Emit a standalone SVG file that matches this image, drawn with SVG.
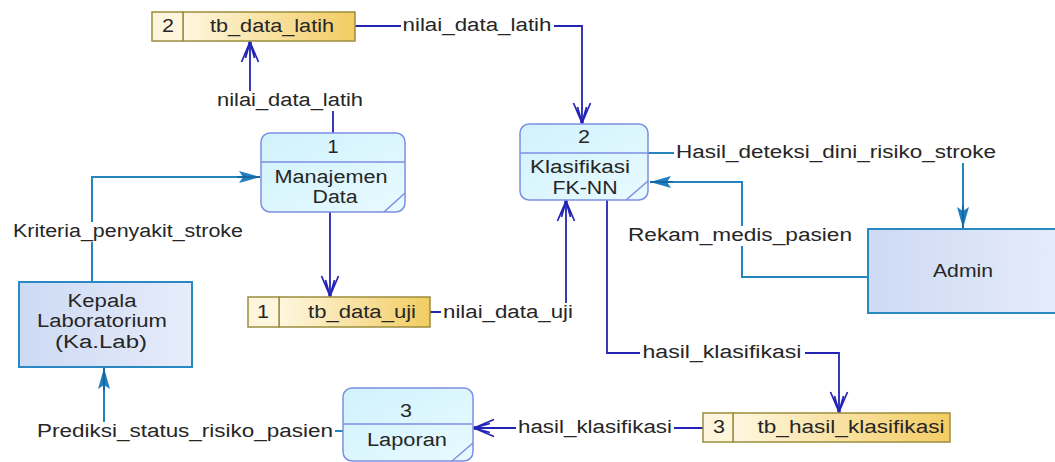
<svg xmlns="http://www.w3.org/2000/svg" width="1055" height="462" viewBox="0 0 1055 462">
  <style>
    text { font-family: "Liberation Sans", Arial, sans-serif; font-size: 18px; fill: #262626; text-anchor: middle; }
    .proc { fill: url(#procFill); stroke: #7d8ee4; stroke-width: 1.5; }
    .procLine { stroke: #7d8ee4; stroke-width: 1.5; fill: none; }
    .ext { fill: url(#extFill); stroke: #2a88c2; stroke-width: 2; }
    .dsNum { fill: #fdf6dc; stroke: #9c8d3c; stroke-width: 1.5; }
    .dsName { fill: url(#dsFill); stroke: #9c8d3c; stroke-width: 1.5; }
    .flow { fill: none; stroke: #2424b4; stroke-width: 1.8; }
    .flowT { fill: none; stroke: #2384bf; stroke-width: 2; }
    .bg { fill: #ffffff; }
  </style>
  <defs>
    <linearGradient id="procFill" x1="0" y1="0" x2="1" y2="1">
      <stop offset="0" stop-color="#d0f2fc"/>
      <stop offset="1" stop-color="#e8faff"/>
    </linearGradient>
    <linearGradient id="extFill" x1="0" y1="0" x2="1" y2="0">
      <stop offset="0" stop-color="#cddaf4"/>
      <stop offset="1" stop-color="#e6ecfa"/>
    </linearGradient>
    <linearGradient id="dsFill" x1="0" y1="0" x2="1" y2="0">
      <stop offset="0" stop-color="#fef7e0"/>
      <stop offset="1" stop-color="#f3cc62"/>
    </linearGradient>
    <!-- open double-V head for data store flows -->
    <marker id="open" viewBox="0 0 22 20" refX="21" refY="10" markerWidth="22" markerHeight="20" markerUnits="userSpaceOnUse" orient="auto">
      <path d="M1,1.5 L21,10 L1,18.5 M5,5.5 L21,10 L5,14.5" fill="none" stroke="#2424b4" stroke-width="1.7"/>
      <circle cx="20" cy="10" r="1.9" fill="#2424b4"/>
    </marker>
    <!-- filled head for external entity flows -->
    <marker id="solid" viewBox="0 0 24 14" refX="23" refY="7" markerWidth="24" markerHeight="14" markerUnits="userSpaceOnUse" orient="auto">
      <path d="M2,1 L23,7 L2,13 L6,7 z" fill="#1f7fc0"/>
      <path d="M0,7 L23,7" stroke="#15609a" stroke-width="1.5"/>
    </marker>
  </defs>

  <!-- connectors -->
  <g id="connectors">
    <path class="flow" d="M333,133 V100 H250 V42" marker-end="url(#open)"/>
    <path class="flow" d="M355,26 H582 V123" marker-end="url(#open)"/>
    <path class="flow" d="M330,212 V296" marker-end="url(#open)"/>
    <path class="flow" d="M430,312 H566 V201" marker-end="url(#open)"/>
    <path class="flow" d="M607,200 V353 H839 V412" marker-end="url(#open)"/>
    <path class="flow" d="M703,428 H474" marker-end="url(#open)"/>
    <path class="flowT" d="M92,282 V177 H260" marker-end="url(#solid)"/>
    <path class="flowT" d="M343,431 H104 V368" marker-end="url(#solid)"/>
    <path class="flowT" d="M648,153 H963 V228" marker-end="url(#solid)"/>
    <path class="flowT" d="M868,277 H742 V182 H650" marker-end="url(#solid)"/>

    <!-- flow labels -->
    <rect class="bg" x="215" y="91" width="150" height="20"/>
    <text x="290" y="106" textLength="146" lengthAdjust="spacingAndGlyphs">nilai_data_latih</text>
    <rect class="bg" x="401" y="16" width="153" height="20"/>
    <text x="477" y="31" textLength="149" lengthAdjust="spacingAndGlyphs">nilai_data_latih</text>
    <rect class="bg" x="441" y="303" width="134" height="20"/>
    <text x="508" y="318" textLength="130" lengthAdjust="spacingAndGlyphs">nilai_data_uji</text>
    <rect class="bg" x="640" y="343" width="165" height="20"/>
    <text x="722" y="358" textLength="159" lengthAdjust="spacingAndGlyphs">hasil_klasifikasi</text>
    <rect class="bg" x="516" y="418" width="158" height="20"/>
    <text x="595" y="433" textLength="154" lengthAdjust="spacingAndGlyphs">hasil_klasifikasi</text>
    <rect class="bg" x="11" y="222" width="234" height="20"/>
    <text x="128" y="237" textLength="230" lengthAdjust="spacingAndGlyphs">Kriteria_penyakit_stroke</text>
    <rect class="bg" x="35" y="422" width="300" height="20"/>
    <text x="185" y="437" textLength="296" lengthAdjust="spacingAndGlyphs">Prediksi_status_risiko_pasien</text>
    <rect class="bg" x="674" y="143" width="324" height="20"/>
    <text x="836" y="158" textLength="320" lengthAdjust="spacingAndGlyphs">Hasil_deteksi_dini_risiko_stroke</text>
    <rect class="bg" x="626" y="226" width="228" height="20"/>
    <text x="740" y="241" textLength="224" lengthAdjust="spacingAndGlyphs">Rekam_medis_pasien</text>
  </g>

  <!-- data stores -->
  <g id="ds-tb_data_latih">
    <rect class="dsName" x="183" y="12" width="172" height="29"/>
    <rect class="dsNum" x="152" y="12" width="31" height="29"/>
    <text x="168" y="32" textLength="12" lengthAdjust="spacingAndGlyphs">2</text>
    <text x="272" y="32" textLength="124" lengthAdjust="spacingAndGlyphs">tb_data_latih</text>
  </g>
  <g id="ds-tb_data_uji">
    <rect class="dsName" x="279" y="297" width="151" height="30"/>
    <rect class="dsNum" x="248" y="297" width="31" height="30"/>
    <text x="263" y="318" textLength="12" lengthAdjust="spacingAndGlyphs">1</text>
    <text x="362" y="318" textLength="108" lengthAdjust="spacingAndGlyphs">tb_data_uji</text>
  </g>
  <g id="ds-tb_hasil_klasifikasi">
    <rect class="dsName" x="733" y="413" width="217" height="29"/>
    <rect class="dsNum" x="703" y="413" width="30" height="29"/>
    <text x="719" y="433" textLength="12" lengthAdjust="spacingAndGlyphs">3</text>
    <text x="851" y="433" textLength="187" lengthAdjust="spacingAndGlyphs">tb_hasil_klasifikasi</text>
  </g>

  <!-- processes -->
  <g id="proc-1">
    <rect class="proc" x="261" y="133" width="144" height="79" rx="9"/>
    <path class="procLine" d="M261,162 H405 M405,193 L384,212"/>
    <text x="333" y="153" textLength="11" lengthAdjust="spacingAndGlyphs">1</text>
    <text x="331" y="183" textLength="113" lengthAdjust="spacingAndGlyphs">Manajemen</text>
    <text x="335" y="203" textLength="45" lengthAdjust="spacingAndGlyphs">Data</text>
  </g>
  <g id="proc-2">
    <rect class="proc" x="520" y="124" width="128" height="76" rx="9"/>
    <path class="procLine" d="M520,153 H648 M648,181 L626,200"/>
    <text x="584" y="143" textLength="12" lengthAdjust="spacingAndGlyphs">2</text>
    <text x="580" y="173" textLength="100" lengthAdjust="spacingAndGlyphs">Klasifikasi</text>
    <text x="585" y="194" textLength="65" lengthAdjust="spacingAndGlyphs">FK-NN</text>
  </g>
  <g id="proc-3">
    <rect class="proc" x="343" y="388" width="130" height="73" rx="9"/>
    <path class="procLine" d="M343,424 H473 M473,443 L452,461"/>
    <text x="406" y="417" textLength="12" lengthAdjust="spacingAndGlyphs">3</text>
    <text x="407" y="446" textLength="80" lengthAdjust="spacingAndGlyphs">Laporan</text>
  </g>

  <!-- external entities -->
  <g id="ext-kalab">
    <rect class="ext" x="19" y="282" width="173" height="85"/>
    <text x="102" y="307" textLength="69" lengthAdjust="spacingAndGlyphs">Kepala</text>
    <text x="102" y="327" textLength="130" lengthAdjust="spacingAndGlyphs">Laboratorium</text>
    <text x="101" y="348" textLength="92" lengthAdjust="spacingAndGlyphs">(Ka.Lab)</text>
  </g>
  <g id="ext-admin">
    <rect class="ext" x="868" y="229" width="200" height="84"/>
    <text x="963" y="277" textLength="60" lengthAdjust="spacingAndGlyphs">Admin</text>
  </g>
</svg>
